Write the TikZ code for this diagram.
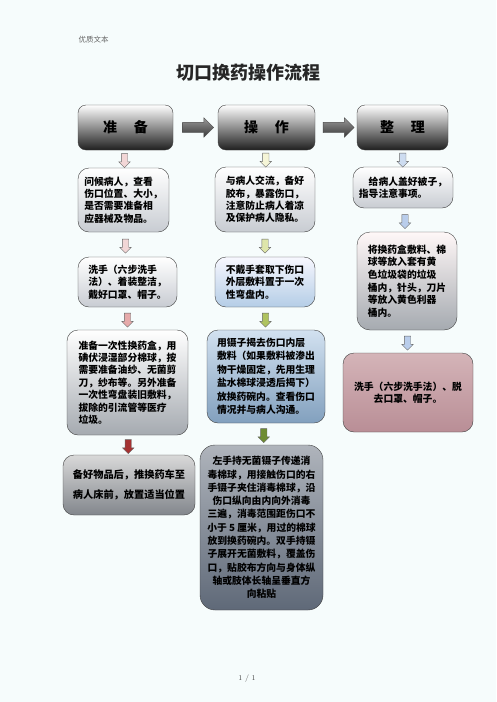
\documentclass[tikz,border=0pt]{standalone}
\usepackage{fontspec}
\newfontfamily\cjk{Noto Sans CJK SC}
\usetikzlibrary{shapes.arrows,calc}
\definecolor{bgpage}{RGB}{246,252,252}
\definecolor{grayA}{RGB}{200,204,210}
\definecolor{grayB}{RGB}{165,170,176}
\definecolor{grayC}{RGB}{130,134,140}
\definecolor{blueA}{RGB}{180,205,230}
\definecolor{blueB}{RGB}{130,160,190}
\definecolor{blueC}{RGB}{95,105,120}
\definecolor{roseA}{RGB}{212,180,184}
\definecolor{roseB}{RGB}{185,142,150}
\definecolor{pinkA}{RGB}{242,214,214}
\definecolor{pinkB}{RGB}{230,170,170}
\definecolor{redA}{RGB}{165,50,50}
\definecolor{olivA}{RGB}{245,245,215}
\definecolor{olivB}{RGB}{222,230,170}
\definecolor{olivC}{RGB}{175,195,95}
\definecolor{olivD}{RGB}{110,140,50}
\definecolor{skyA}{RGB}{205,220,240}
\definecolor{skyB}{RGB}{185,205,235}
\begin{document}
\begin{tikzpicture}[x=1pt, y=-1pt,
  box/.style={draw=black!75, rounded corners=11pt, inner sep=3pt, align=left,
    font=\cjk\bfseries\fontsize{9.8}{12.4}\selectfont},
  headbox/.style={box, rounded corners=8pt, align=center, top color=white,
    bottom color=black!88, minimum height=45pt,
    font=\cjk\bfseries\fontsize{14}{16}\selectfont},
  downarrow/.style={single arrow, shape border rotate=270, draw=black!60,
    fill=#1, minimum width=11pt, minimum height=14pt, inner sep=3pt,
    single arrow head extend=2.5pt, single arrow head indent=0pt},
  sidearrow/.style={single arrow, draw=black!70, top color=black!40,
    bottom color=black!78, minimum width=19pt, minimum height=31pt,
    inner sep=5pt, single arrow head extend=4.5pt, single arrow head indent=0pt}]
\fill[bgpage] (0,0) rectangle (496,702);
\node[anchor=west, text=black!60, font=\cjk\fontsize{7.5}{9}\selectfont] (hdr) at (75,40) {优质文本};
\node[text=black!85, font=\cjk\bfseries\fontsize{18}{20}\selectfont] (title) at (248,73) {切口换药操作流程};
% Kopfzeile
\node[headbox, minimum width=95pt] (hA) at (125.5,127.5) {准\hspace{1.2em}备};
\node[headbox, minimum width=97pt] (hB) at (266.5,127.5) {操\hspace{1.2em}作};
\node[headbox, minimum width=91pt] (hC) at (402.5,127.5) {整\hspace{1.2em}理};
\node[sidearrow] (hAB) at ($(hA.east)!0.5!(hB.west)$) {};
\node[sidearrow] (hBC) at ($(hB.east)!0.5!(hC.west)$) {};
% Spalte 1
\node[box, minimum width=91pt, minimum height=64pt, top color=white, bottom color=grayA] (a1) at (123.5,200)
  {问候病人，查看\\伤口位置、大小，\\是否需要准备相\\应器械及物品。};
\node[box, minimum width=99pt, minimum height=50pt, top color=white, bottom color=grayA] (a2) at (127.5,282)
  {洗手（六步洗手\\法）、着装整洁，\\戴好口罩、帽子。};
\node[box, minimum width=121pt, minimum height=105pt, top color=white, bottom color=grayB] (a3) at (127.5,382.5)
  {准备一次性换药盒，用\\碘伏浸湿部分棉球，按\\需要准备油纱、无菌剪\\刀，纱布等。另外准备\\一次性弯盘装旧敷料，\\拔除的引流管等医疗\\垃圾。};
\node[box, minimum width=132pt, minimum height=60pt, top color=black!15, bottom color=grayC,
  font=\cjk\bfseries\fontsize{10.2}{20}\selectfont] (a4) at (129,485)
  {备好物品后，推换药车至\\病人床前，放置适当位置};
\node[downarrow=pinkA] (ha1) at ($(hA.south)!0.5!(a1.north)$) {};
\node[downarrow=pinkA] (a12) at ($(a1.south)!0.5!(a2.north)$) {};
\node[downarrow=pinkB] (a23) at ($(a2.south)!0.5!(a3.north)$) {};
\node[downarrow=redA] (a34) at ($(a3.south)!0.5!(a4.north)$) {};
% Spalte 2
\node[box, minimum width=100pt, minimum height=65pt, top color=white, bottom color=grayA] (b1) at (265,199.5)
  {与病人交流，备好\\胶布，暴露伤口，\\注意防止病人着凉\\及保护病人隐私。};
\node[box, minimum width=100pt, minimum height=50pt, top color=blue!3, bottom color=blueA] (b2) at (265,282)
  {不戴手套取下伤口\\外层敷料置于一次\\性弯盘内。};
\node[box, minimum width=118pt, minimum height=93pt, top color=blueA!60, bottom color=blueB,
  font=\cjk\bfseries\fontsize{9.8}{13.5}\selectfont] (b3) at (266,376.5)
  {用镊子揭去伤口内层\\敷料（如果敷料被渗出\\物干燥固定，先用生理\\盐水棉球浸透后揭下）\\放换药碗内。查看伤口\\情况并与病人沟通。};
\node[box, minimum width=123pt, minimum height=165pt, rounded corners=15pt, align=center,
  top color=blueC!50, bottom color=blueC,
  font=\cjk\bfseries\fontsize{9.8}{13.3}\selectfont] (b4) at (261.5,527.5)
  {左手持无菌镊子传递消\\毒棉球，用接触伤口的右\\手镊子夹住消毒棉球，沿\\伤口纵向由内向外消毒\\三遍，消毒范围距伤口不\\小于 5 厘米，用过的棉球\\放到换药碗内。双手持镊\\子展开无菌敷料，覆盖伤\\口，贴胶布方向与身体纵\\轴或肢体长轴呈垂直方\\向粘贴};
\node[downarrow=olivA] (hb1) at ($(hB.south)!0.5!(b1.north)$) {};
\node[downarrow=olivB] (b12) at ($(b1.south)!0.5!(b2.north)$) {};
\node[downarrow=olivC] (b23) at ($(b2.south)!0.5!(b3.north)$) {};
\node[downarrow=olivD] (b34) at ($(b3.south)!0.5!(b4.north)$) {};
% Spalte 3
\node[box, minimum width=100pt, minimum height=41pt, top color=white, bottom color=grayA] (c1) at (403,187.5)
  {\hspace{1em}给病人盖好被子，\\指导注意事项。};
\node[box, minimum width=100pt, minimum height=98pt, rounded corners=13pt, top color=red!3, bottom color=grayB,
  font=\cjk\bfseries\fontsize{9.8}{12.7}\selectfont] (c2) at (407,281)
  {将换药盒敷料、棉\\球等放入套有黄\\色垃圾袋的垃圾\\桶内，针头，刀片\\等放入黄色利器\\桶内。};
\node[box, minimum width=130pt, minimum height=79pt, align=center, top color=roseA, bottom color=roseB] (c3) at (408,392.5)
  {洗手（六步洗手法）、脱\\去口罩、帽子。};
\node[downarrow=skyA] (hc1) at ($(hC.south)!0.5!(c1.north)$) {};
\node[downarrow=skyB] (c12) at ($(c1.south)!0.5!(c2.north)$) {};
\node[downarrow=skyB] (c23) at ($(c2.south)!0.5!(c3.north)$) {};
\node[text=black!70, font=\fontsize{7.5}{9}\selectfont] (foot) at (247,679) {1 / 1};
\end{tikzpicture}
\end{document}
